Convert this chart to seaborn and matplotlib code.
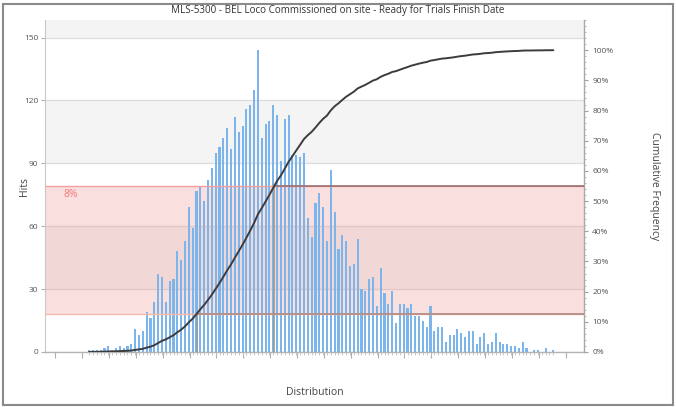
import numpy as np
import seaborn as sns
import matplotlib.pyplot as plt
from matplotlib.patches import Rectangle
from matplotlib.ticker import FixedLocator, MultipleLocator
import matplotlib.transforms as mtransforms

sns.set_theme(style="white")
plt.rcParams['font.family'] = ['Open Sans', 'DejaVu Sans']

# Simulated finish-date distribution (hits per bin)
hits = [1, 1, 1, 1, 2, 3, 1, 2, 3, 2, 3, 4,
        11, 8, 10, 19, 16, 24, 37,
        36, 24, 34, 35, 48, 44, 53, 69, 59,
        77, 79, 72, 82, 88, 95, 98, 102, 107, 97, 112, 105,
        108, 116, 118, 125, 144, 102, 109, 110, 118, 113,
        91, 111, 113, 94, 94, 93, 95,
        64, 55, 71, 76, 69, 53, 87, 67, 49, 56, 53, 41, 42, 54,
        30, 29, 35, 36, 22, 40, 28, 23, 29, 14, 23, 23, 21, 23, 17, 17, 15, 12, 22,
        10, 12, 12, 5, 8, 8, 11, 9, 7, 10, 10, 4, 7, 9, 4, 5, 9, 5, 4, 4, 3, 3,
        2, 5, 2, 0, 1, 1, 0, 2, 0, 1]
bins = np.arange(len(hits))

title = "MLS-5300 - BEL Loco Commissioned on site - Ready for Trials Finish Date"
hit_ticks = [0, 30, 60, 90, 120, 150]
pct_ticks = [0, 10, 20, 30, 40, 50, 60, 70, 80, 90, 100]
band_low_pct = 12.6
band_high_pct = 55.0
band_label = "8%"

cum_pct = np.cumsum(hits) / np.sum(hits) * 100.0

fig = plt.figure(figsize=(6.76, 4.07), dpi=100)
ax = fig.add_axes([45 / 676, 55 / 407, 539 / 676, 332 / 407])

hits_max = max(hits) * 1.1
pct_max = 110.0
scale = hits_max / pct_max

# alternating background bands
for i, lo in enumerate(range(0, 180, 30)):
    if i % 2 == 1:
        ax.axhspan(lo, lo + 30, color='#f4f4f4', lw=0, zorder=0)

# probability band (percent range expressed on the hits axis)
ax.axhspan(band_low_pct * scale, band_high_pct * scale,
           color='#ec7c7c', alpha=0.24, lw=0, zorder=0.6)

sns.barplot(x=bins, y=hits, native_scale=True, width=0.55,
            color='#7cb5ec', saturation=1, ax=ax, zorder=2,
            linewidth=0, antialiased=False)

ax.set_ylim(0, hits_max)
xlim = (-11.5, 129)
ax.set_xlim(*xlim)
ax.set_yticks(hit_ticks)
ax.yaxis.grid(True, color='#dcdcdc', lw=0.9, zorder=0.5)
ax.set_axisbelow(True)

ax.xaxis.set_major_locator(FixedLocator(np.arange(-8.8, 129, 7)))
ax.xaxis.set_minor_locator(FixedLocator(bins))
ax.set_xticklabels([])
ax.tick_params(axis='x', which='major', length=4, width=0.8, color='#b0b0b0', bottom=True)
ax.tick_params(axis='x', which='minor', length=2, width=0.6, color='#c0c0c0', bottom=True)
ax.tick_params(axis='y', which='major', length=3, width=0.8, color='#b0b0b0', left=True,
               labelsize=6, labelcolor='#555555', pad=2)

for side in ['top', 'right']:
    ax.spines[side].set_visible(False)
ax.spines['left'].set_color('#c8c8c8')
ax.spines['bottom'].set_color('#b4b4b4')
ax.spines['left'].set_linewidth(0.8)
ax.spines['bottom'].set_linewidth(1.0)

ax.set_ylabel("Hits", fontsize=7.5, color='#444444')
ax.yaxis.set_label_coords(-0.028, 0.5)
ax.set_xlabel("Distribution", fontsize=7.5, color='#444444')
ax.xaxis.set_label_coords(0.5, -0.105)

ax2 = ax.twinx()
ax2.set_ylim(0, pct_max)

# band edges
ax2.axhline(band_high_pct, color='#f0a0a0', lw=1.0, zorder=3)
ax2.axhline(band_low_pct, color='#f2b8a8', lw=1.0, zorder=3)

# markers where the cumulative curve reaches the band limits
x_low = np.interp(band_low_pct, cum_pct, bins)
x_high = np.interp(band_high_pct, cum_pct, bins)
ax2.vlines([x_low], 0, band_low_pct, color='#9a9a9a', lw=1.2, zorder=3)
ax2.vlines([x_high], 0, band_high_pct, color='#9a9a9a', lw=1.2, zorder=3)
ax2.hlines(band_low_pct, x_low, xlim[1], color='#b08a80', lw=1.2, zorder=3.5)
ax2.hlines(band_high_pct, x_high, xlim[1], color='#987070', lw=1.2, zorder=3.5)

sns.lineplot(x=bins, y=cum_pct, ax=ax2, color='#3c3c3c', lw=1.4, zorder=4)
ax2.set_xlim(*xlim)

trans = mtransforms.blended_transform_factory(ax2.transAxes, ax2.transData)
ax2.text(0.035, band_high_pct - 1.0, band_label, transform=trans, va='top', ha='left',
         fontsize=7.5, color='#f07a7a', zorder=5)

ax2.set_yticks(pct_ticks)
ax2.set_yticklabels([f"{v}%" for v in pct_ticks])
ax2.yaxis.set_minor_locator(MultipleLocator(2))
ax2.tick_params(axis='y', which='major', length=3, width=0.8, color='#a0a0a0', right=True,
                labelsize=6, labelcolor='#555555', pad=3)
ax2.tick_params(axis='y', which='minor', length=1.5, width=0.6, color='#b0b0b0', right=True)
for side in ['top', 'left', 'bottom']:
    ax2.spines[side].set_visible(False)
ax2.spines['right'].set_color('#a8a8a8')
ax2.spines['right'].set_linewidth(1.0)
ax2.set_ylabel("Cumulative Frequency", fontsize=7.5, color='#444444', rotation=270)
ax2.yaxis.set_label_coords(1.141, 0.5)

fig.text(0.5, 0.975, title, ha='center', va='center', fontsize=7.1, color='#333333')

fig.patches.append(Rectangle((3 / 676, 2 / 407), 670 / 676, 401 / 407,
                             transform=fig.transFigure, fill=False,
                             ec='#8a8a8a', lw=1.5, zorder=10))

fig.savefig("out.png", dpi=100)
